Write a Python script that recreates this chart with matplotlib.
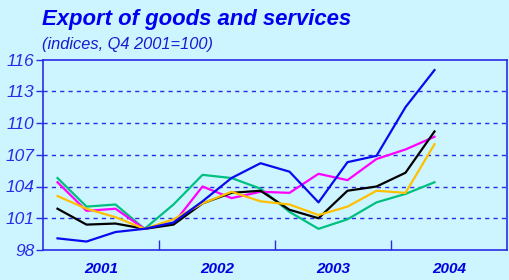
import matplotlib
matplotlib.use("Agg")
import matplotlib.pyplot as plt

plt.rcParams['font.family'] = ['Liberation Sans', 'DejaVu Sans']

years = ["2001", "2002", "2003", "2004"]
yticks = [98, 101, 104, 107, 110, 113, 116]

blue = [99.1, 98.8, 99.7, 100.0, 100.6, 102.6, 104.8, 106.2, 105.4, 102.5, 106.3, 106.9, 111.5, 115.0]
black = [101.9, 100.4, 100.5, 100.0, 100.4, 102.4, 103.4, 103.6, 101.8, 101.0, 103.6, 104.0, 105.3, 109.2]
magenta = [104.4, 101.7, 101.9, 100.0, 100.5, 104.0, 102.9, 103.5, 103.4, 105.2, 104.6, 106.6, 107.5, 108.7]
green = [104.8, 102.1, 102.3, 100.0, 102.3, 105.1, 104.8, 103.8, 101.6, 100.0, 100.9, 102.5, 103.3, 104.4]
orange = [103.1, 101.9, 101.1, 100.0, 100.9, 102.4, 103.5, 102.6, 102.3, 101.3, 102.1, 103.6, 103.4, 108.0]

bg = "#CCF5FF"
axcol = "#2B2BE6"
fig = plt.figure(figsize=(5.09, 2.80), dpi=100, facecolor=bg)
ax = fig.add_axes([43/509, 30/280, 464/509, 190.5/280])
ax.set_facecolor(bg)

x = list(range(len(blue)))
for series, col in [(green, "#00C080"), (magenta, "#FF00FF"), (black, "#000000"),
                    (orange, "#FFC000"), (blue, "#0A0AF0")]:
    ax.plot(x, series, color=col, lw=1.6, zorder=3)

ax.set_xlim(-0.5, 15.5)
ax.set_ylim(98, 116)
ax.set_yticks(yticks)
ax.set_yticklabels([str(v) for v in yticks], fontsize=12.5, style="italic", color=axcol)
for v in yticks[1:-1]:
    ax.axhline(v, color=axcol, lw=1, ls=(0, (3, 3)), zorder=1)

ax.set_xticks([3.5, 7.5, 11.5])
ax.set_xticklabels([])
ax.tick_params(axis="x", direction="in", length=7, color=axcol, width=1)
ax.tick_params(axis="y", direction="out", length=5, color=axcol, width=1, pad=1)
for i, yr in enumerate(years):
    ax.text(1.5 + 4 * i, -0.1, yr, transform=ax.get_xaxis_transform(), ha="center", va="center",
            fontsize=11, fontweight="bold", style="italic", color="#0000E0")
for s in ax.spines.values():
    s.set_color(axcol)
    s.set_linewidth(1.2)

fig.text(42/509, 1 - 19/280, "Export of goods and services", fontsize=15.9, fontweight="bold",
         style="italic", color="#0000F0", va="center", ha="left")
fig.text(42/509, 1 - 45/280, "(indices, Q4 2001=100)", fontsize=11.8, style="italic",
         color="#1A1AD0", va="center", ha="left")

fig.savefig("out.png", dpi=100, facecolor=bg)
